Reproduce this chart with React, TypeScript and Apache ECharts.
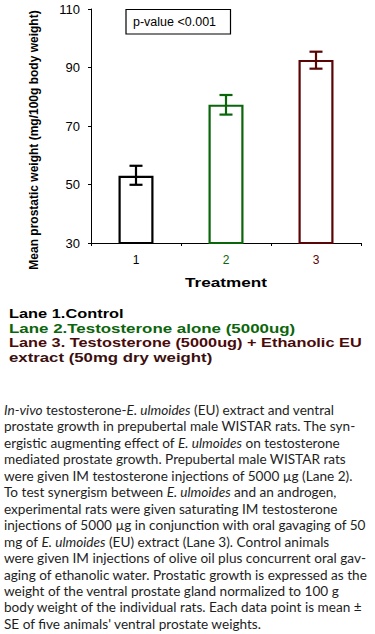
import React, { useEffect, useRef } from "react";
import * as echarts from "echarts";

const categories = ["1", "2", "3"];
const means = [53, 77.3, 92.6];
const errLow = [49.9, 73.9, 89.6];
const errHigh = [56.4, 80.6, 95.4];
const barColors = ["#000000", "#0b650b", "#5a0505"];
const yMin = 30;
const yMax = 110;
const yStep = 20;

const yTitle = "Mean prostatic weight (mg/100g body weight)";
const xTitle = "Treatment";
const pValueText = "p-value <0.001";

const legendLines = [
  "Lane 1.Control",
  "Lane 2.Testosterone alone (5000ug)",
  "Lane 3. Testosterone (5000ug) + Ethanolic EU",
  "extract (50mg dry weight)",
];
const legendColors = ["#000000", "#0b650b", "#4a0a0a", "#3a1010"];

const captionLines = [
  "{i|In-vivo} testosterone-{i|E. ulmoides} (EU) extract and ventral",
  "prostate growth in prepubertal male WISTAR rats. The syn-",
  "ergistic augmenting effect of {i|E. ulmoides} on testosterone",
  "mediated prostate growth. Prepubertal male WISTAR rats",
  "were given IM testosterone injections of 5000 µg (Lane 2).",
  "To test synergism between {i|E. ulmoides} and an androgen,",
  "experimental rats were given saturating IM testosterone",
  "injections of 5000 µg in conjunction with oral gavaging of 50",
  "mg of {i|E. ulmoides} (EU) extract (Lane 3). Control animals",
  "were given IM injections of olive oil plus concurrent oral gav-",
  "aging of ethanolic water. Prostatic growth is expressed as the",
  "weight of the ventral prostate gland normalized to 100 g",
  "body weight of the individual rats. Each data point is mean ±",
  "SE of five animals' ventral prostate weights.",
];

export default function App() {
  const ref = useRef<HTMLDivElement>(null);
  useEffect(() => {
    if (!ref.current) return;
    const chart = echarts.init(ref.current, undefined, { renderer: "svg" });
    const capFont = "Lato";
    const capSize = 13.6;
    const graphics: any[] = [
      {
        type: "rect",
        shape: { x: 126, y: 9.5, width: 104.5, height: 24.5 },
        style: { fill: "#fff", stroke: "#000", lineWidth: 1.2 },
      },
      {
        type: "text",
        x: 133,
        y: 22,
        style: {
          text: pValueText,
          fontFamily: "Liberation Sans",
          fontSize: 12.5,
          fill: "#000",
          align: "left",
          verticalAlign: "middle",
          textAlign: "left",
          textVerticalAlign: "middle",
        },
      },
      {
        type: "text",
        x: 34,
        y: 140,
        rotation: Math.PI / 2,
        style: {
          text: yTitle,
          fontFamily: "Liberation Sans",
          fontWeight: "bold",
          fontSize: 12,
          fill: "#000",
          align: "center",
          verticalAlign: "middle",
          textAlign: "center",
          textVerticalAlign: "middle",
        },
      },
      {
        type: "text",
        x: 226,
        y: 283,
        scaleX: 1.43,
        style: {
          text: xTitle,
          fontFamily: "Liberation Sans",
          fontWeight: "bold",
          fontSize: 12,
          fill: "#000",
          align: "center",
          verticalAlign: "middle",
          textAlign: "center",
          textVerticalAlign: "middle",
        },
      },
    ];
    const legendY = [314, 328.5, 343, 357.5];
    const legendScale = [1.365, 1.41, 1.36, 1.4];
    legendLines.forEach((t, i) => {
      graphics.push({
        type: "text",
        x: 9,
        y: legendY[i],
        scaleX: legendScale[i],
        style: {
          text: t,
          fontFamily: "Liberation Sans",
          fontWeight: "bold",
          fontSize: 12,
          fill: legendColors[i],
          align: "left",
          verticalAlign: "middle",
          textAlign: "left",
          textVerticalAlign: "middle",
        },
      });
    });
    captionLines.forEach((t, i) => {
      graphics.push({
        type: "text",
        x: 4,
        y: 410 + i * 16.45,
        style: {
          text: t,
          fontFamily: capFont,
          fontSize: capSize,
          fill: "#1e1e1e",
          align: "left",
          verticalAlign: "middle",
          textAlign: "left",
          textVerticalAlign: "middle",
          rich: {
            i: {
              fontFamily: capFont,
              fontSize: capSize,
              fontStyle: "italic",
              fill: "#1e1e1e",
            },
          },
        },
      });
    });

    chart.setOption({
      animation: false,
      backgroundColor: "#ffffff",
      grid: { left: 91, right: 14, top: 9, bottom: 391, containLabel: false },
      xAxis: {
        type: "category",
        data: categories,
        axisLine: { lineStyle: { color: "#000", width: 1 } },
        axisTick: { show: true, length: 3, lineStyle: { color: "#000" } },
        axisLabel: {
          margin: 11,
          fontFamily: "Liberation Sans",
          fontSize: 12,
          color: (v: string, idx: number) => barColors[idx],
        },
        splitLine: { show: false },
      },
      yAxis: {
        type: "value",
        min: yMin,
        max: yMax,
        interval: yStep,
        axisLine: { show: true, lineStyle: { color: "#000", width: 1 } },
        axisTick: { show: true, length: 3, lineStyle: { color: "#000" } },
        axisLabel: {
          margin: 11,
          fontFamily: "Liberation Sans",
          fontSize: 13,
          color: "#000",
        },
        splitLine: { show: false },
      },
      series: [
        {
          type: "bar",
          barWidth: 35,
          data: means.map((v, i) => ({
            value: v,
            itemStyle: { color: "#ffffff", borderColor: barColors[i], borderWidth: 2.2 },
          })),
          z: 2,
        },
        {
          type: "custom",
          z: 3,
          data: categories.map((c, i) => [i, errLow[i], errHigh[i]]),
          encode: { x: 0, y: [1, 2] },
          renderItem: (params: any, api: any) => {
            const i = api.value(0);
            const lo = api.coord([i, api.value(1)]);
            const hi = api.coord([i, api.value(2)]);
            const color = barColors[params.dataIndex];
            const w = 6.5;
            const st = { stroke: color, lineWidth: 2.2 };
            return {
              type: "group",
              children: [
                { type: "line", shape: { x1: hi[0], y1: hi[1], x2: lo[0], y2: lo[1] }, style: st },
                { type: "line", shape: { x1: hi[0] - w, y1: hi[1], x2: hi[0] + w, y2: hi[1] }, style: st },
                { type: "line", shape: { x1: lo[0] - w, y1: lo[1], x2: lo[0] + w, y2: lo[1] }, style: st },
              ],
            };
          },
        },
      ],
      graphic: graphics,
    });
    return () => chart.dispose();
  }, []);
  return (
    <div
      ref={ref}
      style={{ position: "fixed", left: 0, top: 0, width: 375, height: 634, background: "#fff" }}
    />
  );
}
